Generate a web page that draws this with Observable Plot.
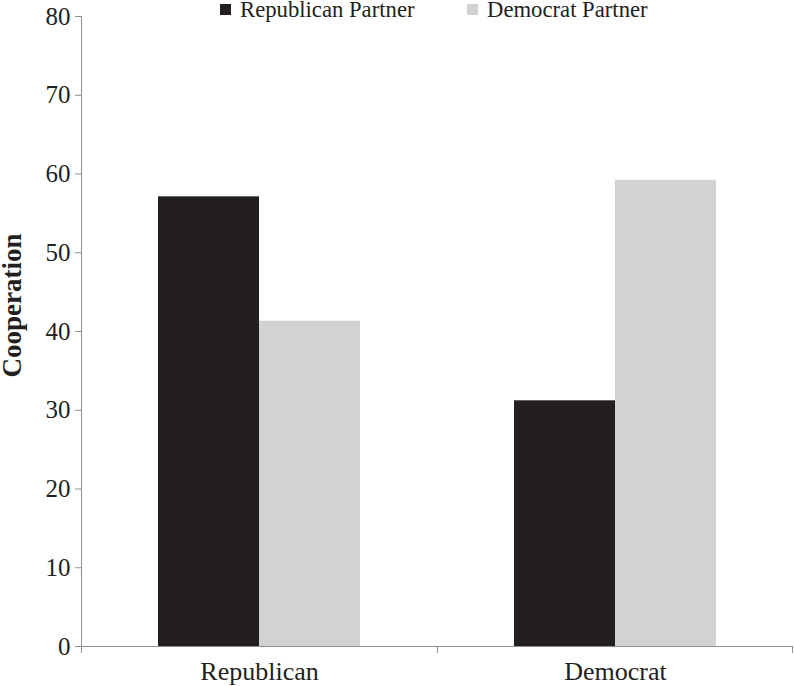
<!DOCTYPE html>
<html><head><meta charset="utf-8">
<script src="https://cdn.jsdelivr.net/npm/d3@7"></script>
<script src="https://cdn.jsdelivr.net/npm/@observablehq/plot@0.6"></script>
<style>
body{margin:0;background:#fff}
#wrap{position:relative;width:794px;height:686px;font-family:"Liberation Serif","Times New Roman",serif;color:#231f20}
#wrap svg{display:block}
.li{position:absolute;top:0px;font-size:22.7px;line-height:20px;white-space:nowrap}
.sw{position:absolute;width:11px;height:11px;top:4px}
</style></head><body>
<div id="wrap"></div>
<script>
const groups = ["Republican", "Democrat"];
const partners = ["Republican Partner", "Democrat Partner"];
const republicanPartner = [57.1, 31.2];
const democratPartner = [41.3, 59.2];
const colors = ["#231f20", "#d1d2d4"];
const yTicks = [0, 10, 20, 30, 40, 50, 60, 70, 80];
const yLabel = "Cooperation";

const data = groups.flatMap((g, i) => [
  {group: g, partner: partners[0], value: republicanPartner[i]},
  {group: g, partner: partners[1], value: democratPartner[i]}
]);

const axisColor = "#8f8f8f";
const plot = Plot.plot({
  width: 794, height: 686,
  marginLeft: 80, marginRight: 1, marginTop: 16, marginBottom: 40,
  style: {fontFamily: "'Liberation Serif', 'Times New Roman', serif", background: "white", color: "#231f20"},
  fx: {domain: groups, padding: 0, label: null},
  x: {domain: partners, paddingInner: 0, paddingOuter: 0.748, axis: null},
  y: {domain: [0, 80], label: null},
  color: {domain: partners, range: colors},
  marks: [
    Plot.barY(data, {fx: "group", x: "partner", y: "value", fill: "partner"}),
    Plot.ruleY([0], {stroke: axisColor, strokeWidth: 1}),
    Plot.axisY({ticks: yTicks, tickSize: 6, tickPadding: 5, fontSize: 25, stroke: axisColor, fill: "#231f20", label: null}),
    Plot.axisFx({anchor: "bottom", tickSize: 0, tickPadding: 15, fontSize: 26, fill: "#231f20", label: null}),
    Plot.text([{group: groups[0]}], {fx: "group", text: () => yLabel, frameAnchor: "left", textAnchor: "middle", lineAnchor: "middle", rotate: -90, dx: -69, dy: -26, fontSize: 27, fontWeight: "bold", fill: "#231f20"})
  ]
});

// axis line and band-boundary ticks from the library's scales
const fx = plot.scale("fx"), y = plot.scale("y");
const svg = d3.select(plot);
const g = svg.append("g").attr("stroke", axisColor).attr("stroke-width", 1);
const x0 = fx.apply(groups[0]);
g.append("line").attr("x1", x0 + 0.5).attr("x2", x0 + 0.5).attr("y1", y.apply(80)).attr("y2", y.apply(0));
const bounds = groups.map(d => fx.apply(d)).concat([fx.apply(groups[groups.length - 1]) + fx.bandwidth]);
bounds.forEach((b, i) => {
  const xx = i === bounds.length - 1 ? b - 0.5 : b + 0.5;
  g.append("line").attr("x1", xx).attr("x2", xx).attr("y1", y.apply(0)).attr("y2", y.apply(0) + 7);
});

const wrap = document.getElementById("wrap");
wrap.appendChild(plot);

// legend
const legendX = [220, 467];
partners.forEach((p, i) => {
  const sw = document.createElement("div");
  sw.className = "sw";
  sw.style.left = legendX[i] + "px";
  sw.style.background = colors[i];
  wrap.appendChild(sw);
  const t = document.createElement("div");
  t.className = "li";
  t.style.left = (legendX[i] + 20) + "px";
  t.textContent = p;
  wrap.appendChild(t);
});
</script>
</body></html>
